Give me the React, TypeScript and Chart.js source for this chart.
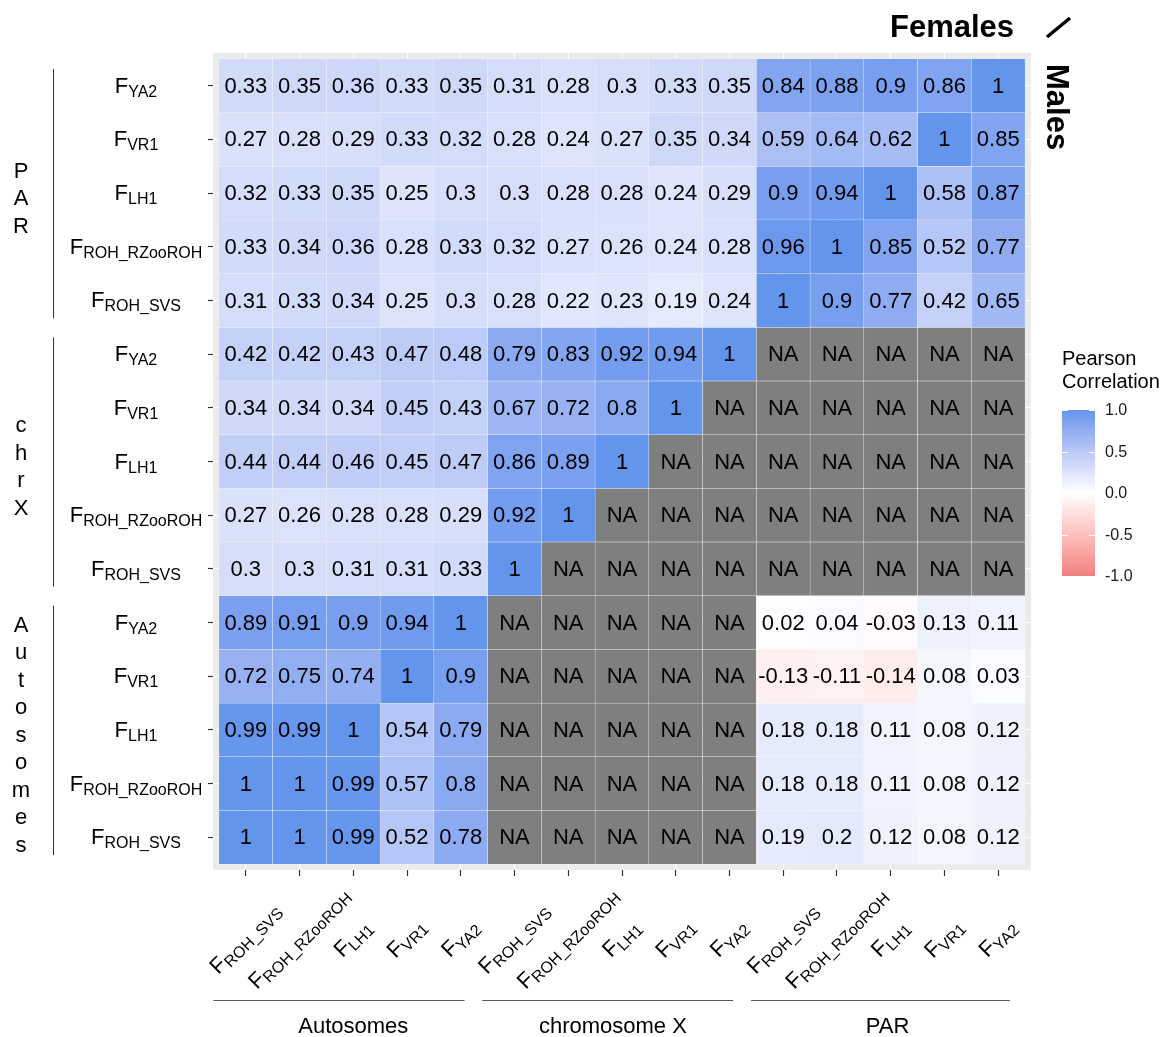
import React, { useEffect, useRef } from "react";
import { Chart, registerables } from "chart.js";

Chart.register(...registerables);

// ---------- data ----------
const colGroups = ["Autosomes", "chromosome X", "PAR"];
const colMeasures = ["ROH_SVS", "ROH_RZooROH", "LH1", "VR1", "YA2"];
const rowGroupLetters = [["P", "A", "R"], ["c", "h", "r", "X"], ["A", "u", "t", "o", "s", "o", "m", "e", "s"]];
const rowMeasures = ["YA2", "VR1", "LH1", "ROH_RZooROH", "ROH_SVS"];
const legendTicks = [1.0, 0.5, 0.0, -0.5, -1.0];
const legendTickLabels = ["1.0", "0.5", "0.0", "-0.5", "-1.0"];

const N = null;
const parRows: (number | null)[][] = [
  [0.33, 0.35, 0.36, 0.33, 0.35, 0.31, 0.28, 0.3, 0.33, 0.35, 0.84, 0.88, 0.9, 0.86, 1],
  [0.27, 0.28, 0.29, 0.33, 0.32, 0.28, 0.24, 0.27, 0.35, 0.34, 0.59, 0.64, 0.62, 1, 0.85],
  [0.32, 0.33, 0.35, 0.25, 0.3, 0.3, 0.28, 0.28, 0.24, 0.29, 0.9, 0.94, 1, 0.58, 0.87],
  [0.33, 0.34, 0.36, 0.28, 0.33, 0.32, 0.27, 0.26, 0.24, 0.28, 0.96, 1, 0.85, 0.52, 0.77],
  [0.31, 0.33, 0.34, 0.25, 0.3, 0.28, 0.22, 0.23, 0.19, 0.24, 1, 0.9, 0.77, 0.42, 0.65],
];
const chrXRows: (number | null)[][] = [
  [0.42, 0.42, 0.43, 0.47, 0.48, 0.79, 0.83, 0.92, 0.94, 1, N, N, N, N, N],
  [0.34, 0.34, 0.34, 0.45, 0.43, 0.67, 0.72, 0.8, 1, N, N, N, N, N, N],
  [0.44, 0.44, 0.46, 0.45, 0.47, 0.86, 0.89, 1, N, N, N, N, N, N, N],
  [0.27, 0.26, 0.28, 0.28, 0.29, 0.92, 1, N, N, N, N, N, N, N, N],
  [0.3, 0.3, 0.31, 0.31, 0.33, 1, N, N, N, N, N, N, N, N, N],
];
const autosomeRows: (number | null)[][] = [
  [0.89, 0.91, 0.9, 0.94, 1, N, N, N, N, N, 0.02, 0.04, -0.03, 0.13, 0.11],
  [0.72, 0.75, 0.74, 1, 0.9, N, N, N, N, N, -0.13, -0.11, -0.14, 0.08, 0.03],
  [0.99, 0.99, 1, 0.54, 0.79, N, N, N, N, N, 0.18, 0.18, 0.11, 0.08, 0.12],
  [1, 1, 0.99, 0.57, 0.8, N, N, N, N, N, 0.18, 0.18, 0.11, 0.08, 0.12],
  [1, 1, 0.99, 0.52, 0.78, N, N, N, N, N, 0.19, 0.2, 0.12, 0.08, 0.12],
];

const allRows = [...parRows, ...chrXRows, ...autosomeRows];
const nCols = colGroups.length * colMeasures.length;
const nRows = allRows.length;
const rowSubs = [...rowMeasures, ...rowMeasures, ...rowMeasures];
const colSubs = [...colMeasures, ...colMeasures, ...colMeasures];

// ---------- colours ----------
const LOW = [240, 128, 128];
const MID = [255, 255, 255];
const HIGH = [100, 149, 237];
const NA_COLOR = "#7F7F7F";
const PANEL_BG = "#EBEBEB";
const FONT = '"Liberation Sans", Arial, Helvetica, sans-serif';

function toLab(rgb: number[]) {
  const lin = rgb.map((c) => {
    const v = c / 255;
    return v <= 0.04045 ? v / 12.92 : Math.pow((v + 0.055) / 1.055, 2.4);
  });
  const X = (0.4124 * lin[0] + 0.3576 * lin[1] + 0.1805 * lin[2]) / 0.95047;
  const Y = 0.2126 * lin[0] + 0.7152 * lin[1] + 0.0722 * lin[2];
  const Z = (0.0193 * lin[0] + 0.1192 * lin[1] + 0.9505 * lin[2]) / 1.08883;
  const f = (t: number) => (t > 0.008856 ? Math.cbrt(t) : 7.787 * t + 16 / 116);
  const fx = f(X), fy = f(Y), fz = f(Z);
  return [116 * fy - 16, 500 * (fx - fy), 200 * (fy - fz)];
}
function fromLab(lab: number[]) {
  const fy = (lab[0] + 16) / 116;
  const fx = fy + lab[1] / 500;
  const fz = fy - lab[2] / 200;
  const inv = (t: number) => (t * t * t > 0.008856 ? t * t * t : (t - 16 / 116) / 7.787);
  const X = inv(fx) * 0.95047, Y = inv(fy), Z = inv(fz) * 1.08883;
  const r = 3.2406 * X - 1.5372 * Y - 0.4986 * Z;
  const g = -0.9689 * X + 1.8758 * Y + 0.0415 * Z;
  const b = 0.0557 * X - 0.204 * Y + 1.057 * Z;
  return [r, g, b].map((c) => {
    const v = c <= 0.0031308 ? 12.92 * c : 1.055 * Math.pow(c, 1 / 2.4) - 0.055;
    return Math.round(Math.max(0, Math.min(1, v)) * 255);
  });
}
function corColor(v: number) {
  const t = (Math.max(-1, Math.min(1, v)) + 1) / 2;
  let a, b, f;
  if (t <= 0.5) { a = LOW; b = MID; f = t / 0.5; } else { a = MID; b = HIGH; f = (t - 0.5) / 0.5; }
  const la = toLab(a), lb = toLab(b);
  const rgb = fromLab([0, 1, 2].map((i) => la[i] + (lb[i] - la[i]) * f));
  return `rgb(${rgb[0]},${rgb[1]},${rgb[2]})`;
}

// ---------- drawing helpers ----------
function drawFsub(ctx: CanvasRenderingContext2D, sub: string, cx: number, baseY: number) {
  ctx.font = `22px ${FONT}`;
  const wF = ctx.measureText("F").width;
  ctx.font = `16px ${FONT}`;
  const wS = ctx.measureText(sub).width;
  const x0 = cx - (wF + wS) / 2;
  ctx.textAlign = "left";
  ctx.textBaseline = "alphabetic";
  ctx.font = `22px ${FONT}`;
  ctx.fillText("F", x0, baseY);
  ctx.font = `16px ${FONT}`;
  ctx.fillText(sub, x0 + wF, baseY + 4);
}

const panelBgPlugin = {
  id: "panelBg",
  beforeDraw(chart: any) {
    const { ctx, chartArea: a } = chart;
    ctx.save();
    ctx.fillStyle = "#FFFFFF";
    ctx.fillRect(0, 0, chart.width, chart.height);
    ctx.fillStyle = PANEL_BG;
    ctx.fillRect(a.left, a.top, a.right - a.left, a.bottom - a.top);
    ctx.restore();
  },
};

const cellTextPlugin = {
  id: "cellText",
  afterDatasetsDraw(chart: any) {
    const { ctx } = chart;
    const xs = chart.scales.x, ys = chart.scales.y;
    ctx.save();
    ctx.fillStyle = "#000000";
    ctx.font = `22px ${FONT}`;
    ctx.textAlign = "center";
    ctx.textBaseline = "middle";
    allRows.forEach((row, r) => {
      row.forEach((v, c) => {
        const label = v === null ? "NA" : String(v);
        ctx.fillText(label, xs.getPixelForValue(c), ys.getPixelForValue(r) + 1);
      });
    });
    ctx.restore();
  },
};

const annotPlugin = {
  id: "annot",
  afterDraw(chart: any) {
    const { ctx } = chart;
    const xs = chart.scales.x, ys = chart.scales.y;
    ctx.save();
    ctx.fillStyle = "#000000";

    // y-axis labels
    rowSubs.forEach((sub, r) => {
      drawFsub(ctx, sub, 136, ys.getPixelForValue(r) + 7);
    });
    // x-axis labels (rotated)
    colSubs.forEach((sub, c) => {
      ctx.save();
      ctx.translate(xs.getPixelForValue(c), 939);
      ctx.rotate(-Math.PI / 4);
      drawFsub(ctx, sub, 0, 6);
      ctx.restore();
    });

    // left group brackets
    rowGroupLetters.forEach((letters, g) => {
      const r0 = g * 5, r1 = g * 5 + 4;
      const top = ys.getPixelForValue(r0 - 0.5);
      const bot = ys.getPixelForValue(r1 + 0.5);
      ctx.strokeStyle = "#333333";
      ctx.lineWidth = 1;
      ctx.beginPath();
      ctx.moveTo(53.5, top + 10);
      ctx.lineTo(53.5, bot - 9);
      ctx.stroke();
      const mid = (top + bot) / 2;
      ctx.font = `22px ${FONT}`;
      ctx.textAlign = "center";
      ctx.textBaseline = "alphabetic";
      const step = 27.5;
      letters.forEach((ch, i) => {
        ctx.fillText(ch, 21, mid + (i - (letters.length - 1) / 2) * step + 12);
      });
    });

    // bottom group brackets
    const labelPos = [2, 6.83, 11.94];
    colGroups.forEach((name, g) => {
      const c0 = g * 5, c4 = g * 5 + 4;
      ctx.strokeStyle = "#595959";
      ctx.lineWidth = 1.2;
      ctx.beginPath();
      ctx.moveTo(xs.getPixelForValue(c0 - 0.6), 1000.5);
      ctx.lineTo(xs.getPixelForValue(c4 + (g === 2 ? 0.22 : 0.07)), 1000.5);
      ctx.stroke();
      ctx.font = `22px ${FONT}`;
      ctx.textAlign = "center";
      ctx.textBaseline = "alphabetic";
      ctx.fillText(name, xs.getPixelForValue(labelPos[g]), 1033);
    });

    // title Females / Males
    ctx.font = `bold 31px ${FONT}`;
    ctx.textAlign = "left";
    ctx.textBaseline = "alphabetic";
    ctx.fillText("Females", 890, 37);
    ctx.strokeStyle = "#000000";
    ctx.lineWidth = 3.5;
    ctx.beginPath();
    ctx.moveTo(1047, 37);
    ctx.lineTo(1070, 18);
    ctx.stroke();
    ctx.save();
    ctx.translate(1047, 64);
    ctx.rotate(Math.PI / 2);
    ctx.fillText("Males", 0, 0);
    ctx.restore();

    // legend
    ctx.font = `20px ${FONT}`;
    ctx.fillStyle = "#000000";
    ctx.fillText("Pearson", 1062, 365);
    ctx.fillText("Correlation", 1062, 388);
    const lx = 1062, lw = 33, lt = 410, lb = 576;
    const grad = ctx.createLinearGradient(0, lt, 0, lb);
    for (let i = 0; i <= 40; i++) grad.addColorStop(i / 40, corColor(1 - (2 * i) / 40));
    ctx.fillStyle = grad;
    ctx.fillRect(lx, lt, lw, lb - lt);
    ctx.strokeStyle = "#FFFFFF";
    ctx.lineWidth = 1;
    ctx.font = `16px ${FONT}`;
    ctx.textBaseline = "middle";
    legendTicks.forEach((v, i) => {
      const y = Math.round(lt + ((1 - v) / 2) * (lb - lt)) + 0.5;
      ctx.beginPath();
      ctx.moveTo(lx, y); ctx.lineTo(lx + 6, y);
      ctx.moveTo(lx + lw - 6, y); ctx.lineTo(lx + lw, y);
      ctx.stroke();
      ctx.fillStyle = "#1a1a1a";
      ctx.fillText(legendTickLabels[i], 1105, y);
    });

    ctx.restore();
  },
};

export default function App() {
  const ref = useRef<HTMLCanvasElement | null>(null);
  useEffect(() => {
    if (!ref.current) return;
    const datasets = allRows.map((row, r) => ({
      label: `row${r}`,
      data: row.map((_, c) => ({ x: c, y: [r - 0.5, r + 0.5] })),
      backgroundColor: row.map((v) => (v === null ? NA_COLOR : corColor(v))),
      borderColor: "rgba(255,255,255,0.5)",
      borderWidth: 0.5,
      borderSkipped: false,
      grouped: false,
      barPercentage: 1,
      categoryPercentage: 1,
    }));
    const intTicks = (n: number) => Array.from({ length: n }, (_, i) => ({ value: i }));
    const chart = new Chart(ref.current, {
      type: "bar",
      data: { datasets } as any,
      plugins: [panelBgPlugin, cellTextPlugin, annotPlugin],
      options: {
        responsive: false,
        animation: false,
        layout: { padding: { left: 0, top: 53, right: 137, bottom: 0 } },
        plugins: { legend: { display: false }, tooltip: { enabled: false } },
        scales: {
          x: {
            type: "linear",
            offset: false,
            min: -0.61,
            max: 14.61,
            afterBuildTicks: (s: any) => { s.ticks = intTicks(nCols); },
            afterFit: (s: any) => { s.height = 167; },
            ticks: { display: false },
            grid: { offset: false, color: "#FFFFFF", lineWidth: 1, tickColor: "#333333", tickLength: 6, tickWidth: 1.2 },
            border: { display: false },
          },
          y: {
            type: "linear",
            offset: false,
            reverse: true,
            min: -0.61,
            max: 14.61,
            afterBuildTicks: (s: any) => { s.ticks = intTicks(nRows); },
            afterFit: (s: any) => { s.width = 213; },
            ticks: { display: false },
            grid: { offset: false, color: "#FFFFFF", lineWidth: 1, tickColor: "#333333", tickLength: 5, tickWidth: 1.2 },
            border: { display: false },
          },
        },
      } as any,
    });
    return () => chart.destroy();
  }, []);
  return (
    <div style={{ position: "absolute", left: 0, top: 0, width: 1168, height: 1037, background: "#fff" }}>
      <canvas ref={ref} width={1168} height={1037} style={{ display: "block" }} />
    </div>
  );
}
